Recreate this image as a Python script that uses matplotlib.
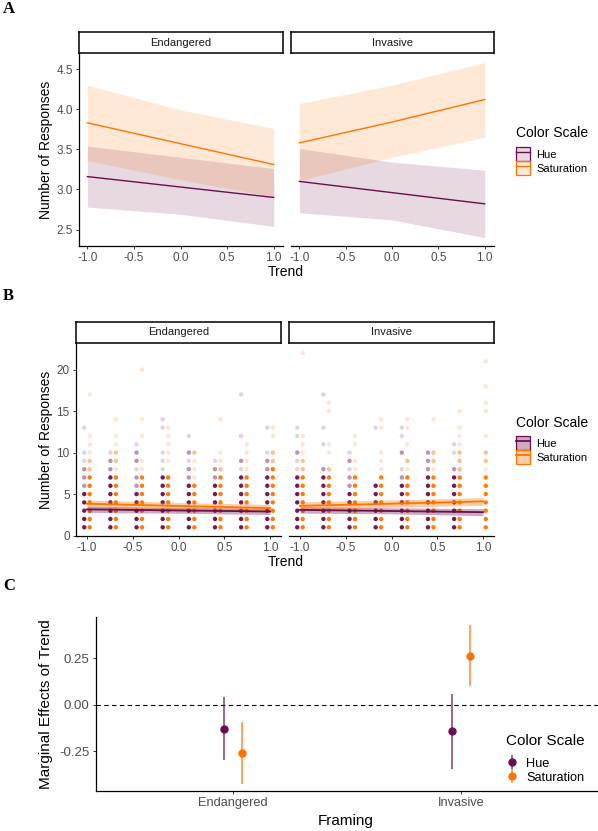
import matplotlib.pyplot as plt
from matplotlib.colors import to_rgba
from matplotlib.patches import Patch
from matplotlib.lines import Line2D
from matplotlib.ticker import FormatStrFormatter

plt.rcParams['font.family'] = ['Liberation Sans', 'DejaVu Sans']
plt.rcParams['axes.unicode_minus'] = False

HUE = '#6B0E4F'
SAT = '#FF7400'
GREY = '#4D4D4D'
W, H = 598, 831

# fitted lines for panels A and B (estimate, lower, upper) at these trend values
trend_fit = [-1.0, 0.0, 1.0]
end_hue_fit = [3.16, 3.03, 2.90]
end_hue_lo = [2.78, 2.69, 2.54]
end_hue_hi = [3.54, 3.40, 3.26]
end_sat_fit = [3.83, 3.57, 3.31]
end_sat_lo = [3.36, 3.12, 2.91]
end_sat_hi = [4.30, 3.99, 3.76]
inv_hue_fit = [3.10, 2.96, 2.82]
inv_hue_lo = [2.71, 2.62, 2.40]
inv_hue_hi = [3.51, 3.34, 3.24]
inv_sat_fit = [3.58, 3.84, 4.12]
inv_sat_lo = [3.11, 3.40, 3.65]
inv_sat_hi = [4.07, 4.30, 4.58]

# raw responses for panel B: per trend level, (all counts up to this are dense, {sparser count: density})
trend_levels = [-1, -5/7, -3/7, -1/7, 1/7, 3/7, 5/7, 1]
end_hue_pts = [
    (5, {6: 2, 7: 2, 8: 2, 9: 1, 10: 1, 13: 1}),
    (7, {8: 2, 9: 2, 10: 1}),
    (5, {6: 2, 7: 2, 8: 1, 9: 2, 10: 2, 11: 1}),
    (7, {8: 1, 9: 1, 10: 1, 13: 1, 14: 1}),
    (6, {7: 2, 8: 2, 9: 1, 10: 2, 12: 1}),
    (6, {7: 2, 8: 2, 9: 1}),
    (7, {8: 1, 9: 2, 12: 1, 17: 1}),
    (7, {8: 2, 9: 2, 10: 1, 13: 1}),
]
end_sat_pts = [
    (7, {8: 2, 9: 2, 10: 1, 11: 1, 12: 1, 17: 1}),
    (7, {8: 1, 9: 2, 10: 2, 11: 1, 12: 1, 14: 1}),
    (7, {8: 1, 9: 1, 12: 1, 14: 1, 20: 1}),
    (7, {9: 1, 10: 1, 11: 1, 12: 1, 13: 1}),
    (6, {7: 1, 8: 1, 9: 1, 10: 2}),
    (7, {8: 2, 9: 1, 10: 1, 14: 1}),
    (7, {8: 1, 9: 1, 10: 1, 11: 1}),
    (8, {9: 2, 10: 2, 12: 1, 13: 1}),
]
inv_hue_pts = [
    (7, {8: 1, 9: 1, 10: 2, 12: 1, 13: 1}),
    (7, {8: 2, 11: 1, 13: 1, 17: 1}),
    (5, {6: 2, 7: 2, 8: 1, 9: 2, 10: 1}),
    (6, {13: 1}),
    (6, {7: 2, 8: 1, 10: 2, 12: 1, 13: 1}),
    (7, {8: 2, 9: 2, 10: 2}),
    (7, {8: 2, 10: 1, 11: 1}),
    (0, {}),
]
inv_sat_pts = [
    (7, {8: 2, 9: 2, 10: 1, 11: 1, 12: 1, 22: 1}),
    (7, {8: 2, 10: 1, 11: 1, 15: 1, 16: 1}),
    (7, {8: 1, 9: 1, 11: 1, 12: 1}),
    (7, {8: 1, 9: 1, 10: 1, 13: 1, 14: 1}),
    (7, {8: 1, 9: 2, 11: 1, 13: 1, 14: 1}),
    (7, {8: 1, 9: 2, 10: 2, 14: 1}),
    (7, {8: 2, 9: 2, 10: 2, 11: 1, 12: 1, 13: 1, 15: 1}),
    (7, {8: 1, 9: 2, 10: 2, 12: 1, 15: 1, 16: 1, 18: 1, 21: 1}),
]

# panel C marginal effects
framing = ['Endangered', 'Invasive']
me_hue = [-0.129, -0.144]
me_hue_lo = [-0.296, -0.348]
me_hue_hi = [0.039, 0.059]
me_sat = [-0.260, 0.261]
me_sat_lo = [-0.425, 0.098]
me_sat_hi = [-0.095, 0.428]


def box(x0, y0, x1, y1):
    return [x0 / W, 1 - y1 / H, (x1 - x0) / W, (y1 - y0) / H]


fig = plt.figure(figsize=(W / 100, H / 100), dpi=100)


def style(ax, left=True, size=8.5):
    for s in ['top', 'right']:
        ax.spines[s].set_visible(False)
    ax.spines['left'].set_visible(left)
    for s in ['left', 'bottom']:
        ax.spines[s].set_linewidth(0.9)
    ax.tick_params(colors='#333333', labelcolor=GREY, labelsize=size, length=2.5, width=0.7, pad=2)
    if not left:
        ax.tick_params(axis='y', left=False, labelleft=False)


def strip(x0, x1, y0, y1, text):
    s = fig.add_axes(box(x0, y0, x1, y1))
    s.set_xticks([])
    s.set_yticks([])
    for sp in s.spines.values():
        sp.set_linewidth(1.1)
    s.text(0.5, 0.5, text, ha='center', va='center', fontsize=8, color='#1A1A1A')


def fit_lines(ax, fits, ribbon_alpha, lw):
    for color, (est, lo, hi) in fits:
        ax.fill_between(trend_fit, lo, hi, color=color, alpha=ribbon_alpha, lw=0)
        ax.plot(trend_fit, est, color=color, lw=lw)


def raw_points(ax, pts, color, shift):
    alpha = {1: 0.18, 2: 0.45}
    xs, ys, cs = [], [], []
    for t, (dense, extra) in zip(trend_levels, pts):
        for v in range(1, dense + 1):
            xs.append(t + shift)
            ys.append(v)
            cs.append(to_rgba(color, 0.95))
        for v, d in extra.items():
            xs.append(t + shift)
            ys.append(v)
            cs.append(to_rgba(color, alpha[d]))
    ax.scatter(xs, ys, s=10, c=cs, lw=0, zorder=1)


def legend(handles, x, y_title, y_keys, title_size, label_size, **kw):
    fig.text(x / W, 1 - y_title / H, 'Color Scale', ha='left', va='center', fontsize=title_size)
    fig.legend(handles, ['Hue', 'Saturation'], loc='upper left',
               bbox_to_anchor=(x / W, 1 - y_keys / H), frameon=False, borderpad=0, borderaxespad=0,
               fontsize=label_size, **kw)


# ---------------- panel A ----------------
facets_a = [
    (79, 283, 'Endangered', [(HUE, (end_hue_fit, end_hue_lo, end_hue_hi)), (SAT, (end_sat_fit, end_sat_lo, end_sat_hi))]),
    (291, 494, 'Invasive', [(HUE, (inv_hue_fit, inv_hue_lo, inv_hue_hi)), (SAT, (inv_sat_fit, inv_sat_lo, inv_sat_hi))]),
]
for i, (x0, x1, name, fits) in enumerate(facets_a):
    ax = fig.add_axes(box(x0, 53, x1, 246))
    fit_lines(ax, fits, 0.16, 1.0)
    ax.set_xlim(-1.09, 1.1)
    ax.set_ylim(2.295, 4.70)
    ax.set_xticks([-1, -0.5, 0, 0.5, 1])
    ax.set_yticks([2.5, 3.0, 3.5, 4.0, 4.5])
    ax.xaxis.set_major_formatter(FormatStrFormatter('%.1f'))
    ax.yaxis.set_major_formatter(FormatStrFormatter('%.1f'))
    style(ax, left=(i == 0))
    strip(x0, x1, 32, 53, name)

fig.text(46 / W, 1 - 150 / H, 'Number of Responses', rotation=90, ha='center', va='center', fontsize=10)
fig.text(286 / W, 1 - 272 / H, 'Trend', ha='center', va='center', fontsize=10)

handles_a = [(Patch(facecolor=to_rgba(c, 0.16), edgecolor=c, lw=0.9), Line2D([], [], color=c, lw=1.0)) for c in [HUE, SAT]]
legend(handles_a, 516, 133, 147, 10, 8, handlelength=1.25, handleheight=1.56,
       handletextpad=0.55, labelspacing=0.0)

# ---------------- panel B ----------------
facets_b = [
    (76, 281, 'Endangered', end_hue_pts, end_sat_pts, facets_a[0][3]),
    (289, 494, 'Invasive', inv_hue_pts, inv_sat_pts, facets_a[1][3]),
]
for i, (x0, x1, name, hue_pts, sat_pts, fits) in enumerate(facets_b):
    ax = fig.add_axes(box(x0, 343, x1, 536))
    raw_points(ax, hue_pts, HUE, -0.03)
    raw_points(ax, sat_pts, SAT, 0.03)
    fit_lines(ax, fits, 0.35, 1.3)
    ax.set_xlim(-1.12, 1.12)
    ax.set_ylim(-0.05, 23.2)
    ax.set_xticks([-1, -0.5, 0, 0.5, 1])
    ax.set_yticks([0, 5, 10, 15, 20])
    ax.xaxis.set_major_formatter(FormatStrFormatter('%.1f'))
    style(ax, left=(i == 0))
    strip(x0, x1, 322, 343, name)

fig.text(46 / W, 1 - 440 / H, 'Number of Responses', rotation=90, ha='center', va='center', fontsize=10)
fig.text(286 / W, 1 - 562 / H, 'Trend', ha='center', va='center', fontsize=10)

handles_b = [(Patch(facecolor=to_rgba(c, 0.35), edgecolor=c, lw=0.9), Line2D([], [], color=c, lw=1.3)) for c in [HUE, SAT]]
legend(handles_b, 516, 423, 436, 10, 8, handlelength=1.25, handleheight=1.56,
       handletextpad=0.55, labelspacing=0.0)

# ---------------- panel C ----------------
ax = fig.add_axes(box(96, 617, 598, 791))
pos = range(1, len(framing) + 1)
ax.axhline(0, color='black', lw=0.8, ls=(0, (4, 3)), zorder=0)
for color, est, lo, hi, shift in [
    (HUE, me_hue, me_hue_lo, me_hue_hi, -0.038),
    (SAT, me_sat, me_sat_lo, me_sat_hi, 0.038),
]:
    xs = [p + shift for p in pos]
    ax.vlines(xs, lo, hi, color=color, alpha=0.75, lw=1.2)
    ax.plot(xs, est, 'o', color=color, ms=5)
ax.set_xlim(0.4, 2.6)
ax.set_ylim(-0.464, 0.471)
ax.set_xticks(list(pos))
ax.set_xticklabels(framing)
ax.set_yticks([-0.25, 0, 0.25])
ax.yaxis.set_major_formatter(FormatStrFormatter('%.2f'))
style(ax, size=9.2)
ax.tick_params(axis='y', labelsize=9.5)

fig.text(46 / W, 1 - 704 / H, 'Marginal Effects of Trend', rotation=90, ha='center', va='center', fontsize=11)
fig.text(346 / W, 1 - 821 / H, 'Framing', ha='center', va='center', fontsize=11)

handles_c = [(Line2D([], [], color=c, alpha=0.75, lw=1.2, marker='|', ms=10, ls='none', mew=1.2),
              Line2D([], [], color=c, marker='o', ms=5, ls='none')) for c in [HUE, SAT]]
legend(handles_c, 506, 741, 757, 11, 9.2, handlelength=1.0, handleheight=1.05,
       handletextpad=0.6, labelspacing=0.05)

# panel letters
for letter, y in [('A', 9), ('B', 296), ('C', 586)]:
    fig.text(3 / W, 1 - y / H, letter, ha='left', va='center', fontsize=12,
             fontweight='bold', family='Liberation Serif')

fig.savefig('out.png', dpi=100)
